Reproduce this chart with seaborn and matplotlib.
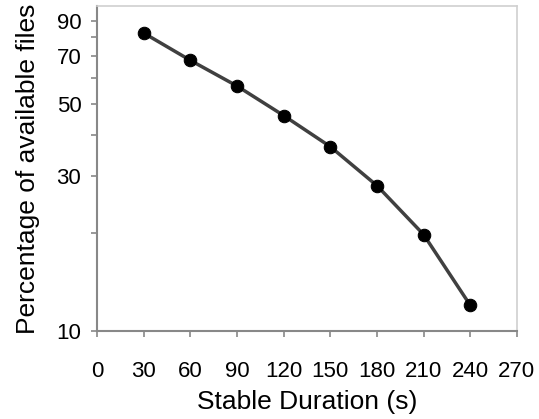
import matplotlib
matplotlib.use("Agg")
import matplotlib.pyplot as plt
import seaborn as sns
import pandas as pd
from matplotlib.ticker import FixedLocator, NullFormatter, FixedFormatter

# Stable duration (s) vs. percentage of files still available
durations = [30, 60, 90, 120, 150, 180, 210, 240]
available_pct = [82.5, 68.0, 56.7, 46.0, 36.9, 28.0, 19.8, 12.0]

x_ticks = [0, 30, 60, 90, 120, 150, 180, 210, 240, 270]
y_major = [10, 30, 50, 70, 90]
y_minor = [20, 40, 60, 80]

sns.set_theme(style="white")
plt.rcParams["font.family"] = ["Liberation Sans", "DejaVu Sans"]
plt.rcParams["text.color"] = "black"
plt.rcParams["axes.labelcolor"] = "black"

df = pd.DataFrame({"duration": durations, "pct": available_pct})

fig = plt.figure(figsize=(5.39, 4.19), dpi=100)
ax = fig.add_axes([0.180, 0.210, 0.779, 0.776])

sns.lineplot(data=df, x="duration", y="pct", ax=ax, color="#404040",
             linewidth=2.5, marker="o", markersize=9,
             markerfacecolor="black", markeredgecolor="black")

ax.set_yscale("log")
ax.set_ylim(10, 100)
ax.set_xlim(0, 270)
ax.xaxis.set_major_locator(FixedLocator(x_ticks))
ax.set_xticklabels([str(t) for t in x_ticks])
ax.yaxis.set_major_locator(FixedLocator(y_major))
ax.yaxis.set_major_formatter(FixedFormatter([str(t) for t in y_major]))
ax.yaxis.set_minor_locator(FixedLocator(y_minor))
ax.yaxis.set_minor_formatter(NullFormatter())

ax.tick_params(axis="x", which="major", direction="out", length=4.3, width=1.2,
               color="#888888", labelcolor="black", labelsize=16, pad=17,
               bottom=True)
ax.tick_params(axis="y", which="both", direction="out", length=4.3, width=1.2,
               color="#888888", labelcolor="black", labelsize=16, pad=7,
               left=True)

for side in ["left", "bottom"]:
    ax.spines[side].set_color("#888888")
    ax.spines[side].set_linewidth(1.5)
for side in ["top", "right"]:
    ax.spines[side].set_color("#d0d0d0")
    ax.spines[side].set_linewidth(1.2)

ax.set_xlabel("Stable Duration (s)", fontsize=19, labelpad=6)
ax.set_ylabel("Percentage of available files", fontsize=19, labelpad=12)

fig.savefig("out.png", dpi=100)
